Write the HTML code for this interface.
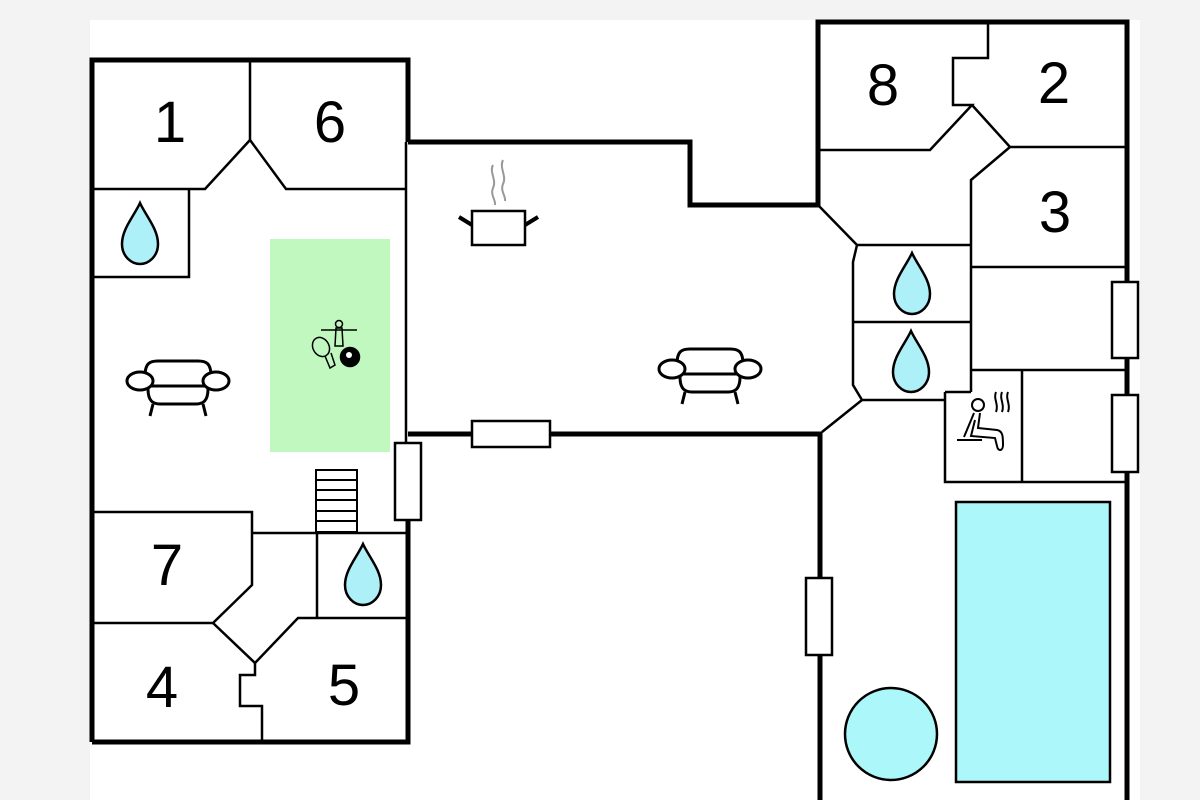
<!DOCTYPE html>
<html><head><style>
html,body{margin:0;padding:0;background:#f3f3f3;}
svg{display:block;}
text{font-family:"Liberation Sans",Arial,sans-serif;font-size:58px;fill:#000;}
</style></head><body>
<svg width="1200" height="800" viewBox="0 0 1200 800" xmlns="http://www.w3.org/2000/svg">
<defs>
<g id="drop"><path d="M0,-31 C6,-18 18,-5 18,10 C18,22 9,30 0,30 C-9,30 -18,22 -18,10 C-18,-5 -6,-18 0,-31 Z" fill="#aef0f8" stroke="#000" stroke-width="2.5"/></g>
<g id="sofa" fill="none" stroke="#000" stroke-width="3">
<path d="M-33,-9 C-33,-22 -28,-24 -20,-24 L20,-24 C28,-24 33,-22 33,-9"/>
<ellipse cx="-38" cy="-4" rx="13" ry="9" fill="#fff"/>
<ellipse cx="38" cy="-4" rx="13" ry="9" fill="#fff"/>
<path d="M-27,1 L27,1"/>
<path d="M-30,4 C-30,16 -25,19 -18,19 L18,19 C25,19 30,16 30,4"/>
<path d="M-25,19 L-28,31 M25,19 L28,31"/>
</g>
</defs>
<rect x="90" y="20" width="1050" height="780" fill="#fff"/>

<rect x="270" y="239" width="120" height="213" fill="#c0f8bf"/>
<rect x="956" y="502" width="154" height="280" fill="#abf7f9" stroke="#000" stroke-width="2.5"/>
<circle cx="891" cy="734" r="46" fill="#abf7f9" stroke="#000" stroke-width="2.5"/>

<g fill="none" stroke="#000" stroke-linejoin="miter">
<g stroke-width="5">
<path d="M92,742 L92,60 L408,60 L408,142"/>
<path d="M408,142 L690,142 L690,205 L818,205 L818,22 L1127,22 L1127,800"/>
<path d="M408,520 L408,742 L92,742"/>
<path d="M408,434 L472,434 M550,434 L820,434 L820,800"/>
</g>
<g stroke-width="2.5">
<path d="M406,142 L406,443"/>
<path d="M250,60 L250,140 L205,189 L92,189"/>
<path d="M250,140 L286,189 L406,189"/>
<path d="M189,189 L189,277 L92,277"/>
<path d="M92,512 L252,512 L252,585 L213,623 L92,623"/>
<path d="M252,533 L406,533"/>
<path d="M317,533 L317,618 M406,618 L298,618 L255,663 L213,623"/>
<path d="M255,663 L255,675 L240,675 L240,706 L262,706 L262,740"/>
<path d="M988,22 L988,58 L953,58 L953,105 L972,105 L930,150 L818,150"/>
<path d="M972,105 L1010,147 L1125,147"/>
<path d="M1010,147 L971,180 L971,392"/>
<path d="M818,205 L857,245 L971,245"/>
<path d="M971,267 L1125,267"/>
<path d="M857,245 L853,262 L853,385 L862,400 L945,400"/>
<path d="M853,322 L971,322"/>
<path d="M862,400 L822,432"/>
<path d="M945,392 L971,392 M945,392 L945,482 L1125,482"/>
<path d="M971,370 L1125,370 M1022,370 L1022,482"/>
</g>
<g stroke-width="2.5" fill="#fff">
<rect x="472" y="421" width="78" height="26"/>
<rect x="395" y="443" width="26" height="77"/>
<rect x="806" y="578" width="26" height="77"/>
<rect x="1112" y="282" width="26" height="76"/>
<rect x="1112" y="395" width="26" height="77"/>
</g>
<g stroke-width="2">
<rect x="316" y="470" width="41" height="62"/>
<path d="M316,480 H357 M316,490 H357 M316,500 H357 M316,511 H357 M316,521 H357"/>
</g>
</g>

<use href="#drop" x="140" y="234"/>
<use href="#drop" x="912" y="284"/>
<use href="#drop" x="911" y="362"/>
<use href="#drop" x="363" y="575"/>

<use href="#sofa" x="178" y="385"/>
<use href="#sofa" x="710" y="373"/>

<g fill="none" stroke="#000" stroke-width="2.5">
<rect x="472" y="211" width="53" height="34" fill="#fff"/>
<path d="M472,225 L459,217 M525,225 L538,217" stroke-width="4"/>
<path d="M493,165 C489,172 497,180 493,188 C490,195 496,200 495,205 M503,160 C499,168 507,176 503,184 C500,191 506,196 505,201" stroke="#999" stroke-width="2"/>
</g>

<g fill="none" stroke="#000" stroke-width="1.5">
<circle cx="339" cy="324" r="3.5"/>
<path d="M321,330 H357 M336,328 L335,346 H343 L342,328 Z"/>
<ellipse cx="321" cy="347" rx="8" ry="10" transform="rotate(-30 321 347)" fill="#c0f8bf"/>
<path d="M325,356 L330,368 L335,365 L331,353"/>
<circle cx="350" cy="357" r="9.5" fill="#000"/>
<circle cx="349" cy="355" r="3" fill="#fff" stroke="none"/>
</g>

<g fill="none" stroke="#000" stroke-width="2">
<circle cx="978" cy="405" r="6"/>
<path d="M974,413 L964,437 M980,413 L978,428 L997,430 C1003,431 1003,437 1003,445 C1003,451 998,452 997,446 L995,438 L971,436 L975,420"/>
<path d="M957,440 L982,440"/>
<path d="M996,392 C993,399 999,404 996,412 M1002,392 C999,399 1005,404 1002,412 M1008,392 C1005,399 1011,404 1008,412"/>
</g>

<text x="170" y="142" text-anchor="middle">1</text>
<text x="330" y="142" text-anchor="middle">6</text>
<text x="883" y="105" text-anchor="middle">8</text>
<text x="1054" y="103" text-anchor="middle">2</text>
<text x="1055" y="232" text-anchor="middle">3</text>
<text x="167" y="585" text-anchor="middle">7</text>
<text x="162" y="707" text-anchor="middle">4</text>
<text x="344" y="705" text-anchor="middle">5</text>
</svg>
</body></html>
